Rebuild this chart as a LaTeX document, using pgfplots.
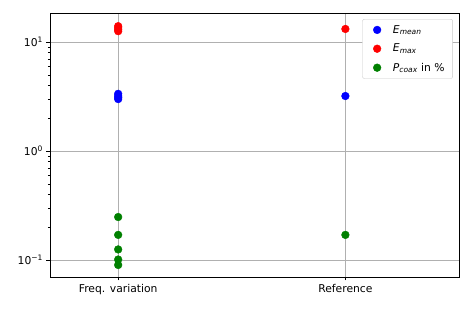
\documentclass[border=0pt]{standalone}
\usepackage{fontspec}
\setmainfont{DejaVu Sans}
\usepackage{pgfplots}
\pgfplotsset{compat=1.18}
\definecolor{mblue}{RGB}{0,0,255}
\definecolor{mred}{RGB}{255,0,0}
\definecolor{mgreen}{RGB}{0,128,0}
\definecolor{gridgray}{RGB}{176,176,176}
\begin{document}
\begin{tikzpicture}
\useasboundingbox (-50bp,-33bp) rectangle (422bp,277bp);
\begin{axis}[
  scale only axis,
  width=409bp, height=264bp,
  ymode=log,
  xmin=-0.3, xmax=1.5,
  ymin=0.0698, ymax=18.5,
  xtick={0,1},
  xticklabels={Freq. variation, Reference},
  ytick={0.1,1,10},
  yticklabels={10\textsuperscript{−1},10\textsuperscript{0},10\textsuperscript{1}},
  tick label style={font=\fontsize{10.8}{12}\selectfont},
  tick align=outside,
  tick pos=left,
  major tick length=3.5bp,
  minor tick length=2bp,
  grid=major,
  major grid style={gridgray, line width=0.6pt},
  axis line style={line width=0.6pt},
  every tick/.style={black, line width=0.6pt},
  legend style={at={(0.985,0.977)}, anchor=north east, draw=gridgray!70, rounded corners=2pt, font=\fontsize{10.8}{12}\selectfont, row sep=5.5pt, inner xsep=6pt, inner ysep=4pt},
  legend cell align=left,
  legend image code/.code={\path (0cm,0cm) (0.78cm,0cm); \draw[#1] (0.3cm,0cm) circle (3.9pt);},
]
\addplot[only marks, mark=*, mark size=3.9pt, color=mblue, draw=mblue, fill=mblue] coordinates {
 (0,3.35) (0,3.2) (0,3.1) (0,3.0) (1,3.2)};
\addlegendentry{\textit{E}\textsubscript{\textit{mean}}}
\addplot[only marks, mark=*, mark size=3.9pt, color=mred, draw=mred, fill=mred] coordinates {
 (0,14.0) (0,13.5) (0,13.0) (0,12.6) (1,13.2)};
\addlegendentry{\textit{E}\textsubscript{\textit{max}}}
\addplot[only marks, mark=*, mark size=3.9pt, color=mgreen, draw=mgreen, fill=mgreen] coordinates {
 (0,0.248) (0,0.170) (0,0.125) (0,0.101) (0,0.090) (1,0.170)};
\addlegendentry{\textit{P}\textsubscript{\textit{coax}} in \%}
\end{axis}
\end{tikzpicture}
\end{document}
